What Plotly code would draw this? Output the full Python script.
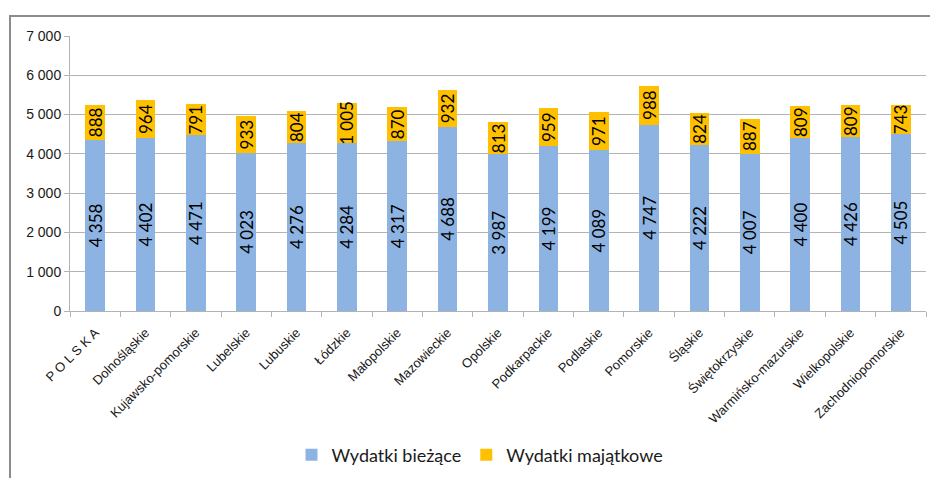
import plotly.graph_objects as go

# ── Data ──────────────────────────────────────────────────────────────────────

regions = [
    'P O L S K A', 'Dolnośląskie', 'Kujawsko-pomorskie', 'Lubelskie',
    'Lubuskie', 'Łódzkie', 'Małopolskie', 'Mazowieckie', 'Opolskie',
    'Podkarpackie', 'Podlaskie', 'Pomorskie', 'Śląskie', 'Świętokrzyskie',
    'Warmińsko-mazurskie', 'Wielkopolskie', 'Zachodniopomorskie',
]
wydatki_biezace = [4358, 4402, 4471, 4023, 4276, 4284, 4317, 4688, 3987,
                   4199, 4089, 4747, 4222, 4007, 4400, 4426, 4505]
wydatki_majatkowe = [888, 964, 791, 933, 804, 1005, 870, 932, 813,
                     959, 971, 988, 824, 887, 809, 809, 743]

BLUE = '#8DB3E2'
GOLD = '#FFC000'
GRID = '#B3B3B3'


def pl_fmt(v):
    return f"{v:,}".replace(',', ' ')


# ── Chart ─────────────────────────────────────────────────────────────────────

fig = go.Figure()
for name, vals, color in [('Wydatki bieżące', wydatki_biezace, BLUE),
                          ('Wydatki majątkowe', wydatki_majatkowe, GOLD)]:
    fig.add_trace(go.Bar(
        x=regions, y=vals, name=name,
        marker=dict(color=color, line=dict(width=0)),
        text=[pl_fmt(v) for v in vals],
        textposition='inside', insidetextanchor='middle',
        textangle=-90, constraintext='none',
        textfont=dict(family='Lato', size=17, color='black'),
        hoverinfo='x+y',
    ))

# page body adds an 8px offset, so the figure is laid out in page pixels - 8
OFF = 8
W, H = 938 - OFF, 478 - OFF
L, R, T, B = 70 - OFF, 12, 36 - OFF, 167
pw, ph = W - L - R, H - T - B


def px_x(p):
    return (p - OFF - L) / pw


def px_y(p):
    return (H - B - (p - OFF)) / ph


# outer chart frame (left + top edges visible in the crop)
fig.add_shape(
    type='path', xref='paper', yref='paper',
    path=f"M {px_x(10)} {px_y(490)} L {px_x(10)} {px_y(16)} L {px_x(950)} {px_y(16)}",
    line=dict(color='#8C8C8C', width=2),
)

fig.update_layout(
    width=W, height=H,
    margin=dict(l=L, r=R, t=T, b=B),
    barmode='stack', bargap=0.61,
    separators=', ',
    plot_bgcolor='white', paper_bgcolor='white',
    font=dict(family='Liberation Sans', color='#1a1a1a'),
    showlegend=True,
    legend=dict(orientation='h', traceorder='normal',
                xref='container', yref='container',
                x=(480 - OFF) / W, xanchor='center',
                y=1 - (455 - OFF) / H, yanchor='middle',
                font=dict(family='Lato', size=18, color='#1a1a1a'),
                itemwidth=30),
    xaxis=dict(
        tickangle=-45, tickfont=dict(size=13), ticklabelstandoff=8,
        showline=True, linecolor=GRID, linewidth=1,
        ticks='outside', tickson='boundaries', ticklen=5, tickcolor=GRID,
        showgrid=False, automargin=False,
    ),
    yaxis=dict(
        range=[0, 7000], dtick=1000, tickformat=',d',
        tickfont=dict(size=14),
        showgrid=True, gridcolor=GRID, gridwidth=1,
        showline=True, linecolor=GRID, linewidth=1,
        ticks='outside', ticklen=5, tickcolor=GRID,
        zeroline=False, automargin=False,
    ),
)

fig.write_html("out.html")
